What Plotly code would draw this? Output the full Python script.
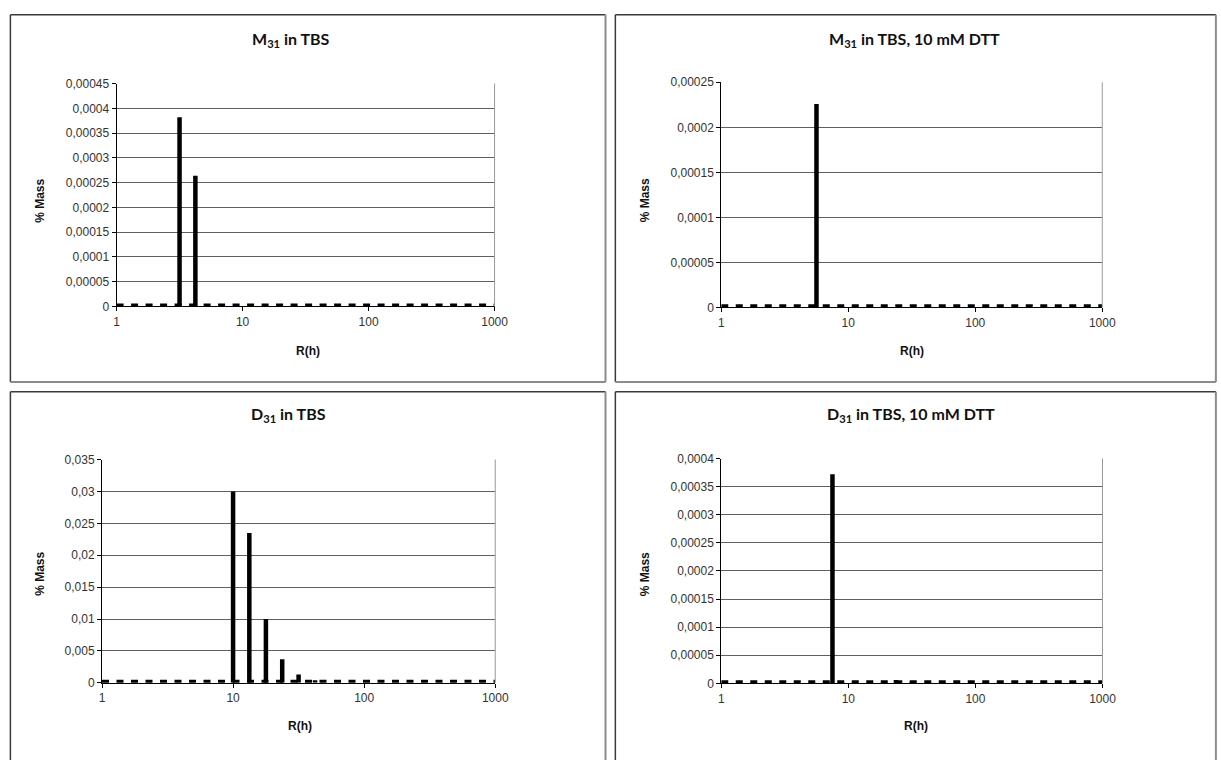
import plotly.graph_objects as go

# ---------------- data ----------------
R_h = [1, 1.33, 1.78, 2.37, 3.16, 4.22, 5.62, 7.5, 10, 13.3, 17.8, 23.7, 31.6,
       42.2, 56.2, 75, 100, 133, 178, 237, 316, 422, 562, 750, 1000]

m31_tbs = [0, 0, 0, 0, 0.000382, 0.000264, 0, 0, 0, 0, 0, 0, 0,
           0, 0, 0, 0, 0, 0, 0, 0, 0, 0, 0, 0]
m31_dtt = [0, 0, 0, 0, 0, 0, 0.000226, 0, 0, 0, 0, 0, 0,
           0, 0, 0, 0, 0, 0, 0, 0, 0, 0, 0, 0]
d31_tbs = [0, 0, 0, 0, 0, 0, 0, 0, 0.0300, 0.0235, 0.0100, 0.0037, 0.0013,
           0.0004, 0, 0, 0, 0, 0, 0, 0, 0, 0, 0, 0]
d31_dtt = [0, 0, 0, 0, 0, 0, 0, 0.000372, 0, 0, 0, 0.000006, 0.000003,
           0, 0, 0, 0, 0, 0, 0, 0, 0, 0, 0, 0]

titles = ["M<sub>31</sub> in TBS", "M<sub>31</sub> in TBS, 10 mM DTT",
          "D<sub>31</sub> in TBS", "D<sub>31</sub> in TBS, 10 mM DTT"]

y_ticks_m31_tbs = [0, 0.00005, 0.0001, 0.00015, 0.0002, 0.00025, 0.0003, 0.00035, 0.0004, 0.00045]
y_ticks_m31_dtt = [0, 0.00005, 0.0001, 0.00015, 0.0002, 0.00025]
y_ticks_d31_tbs = [0, 0.005, 0.01, 0.015, 0.02, 0.025, 0.03, 0.035]
y_ticks_d31_dtt = [0, 0.00005, 0.0001, 0.00015, 0.0002, 0.00025, 0.0003, 0.00035, 0.0004]

x_ticks = [1, 10, 100, 1000]
x_label = "R(h)"
y_label = "% Mass"

# ---------------- layout helpers ----------------
W, H = 1221, 760

def px_x(v):
    return v / W

def px_y(v):
    return 1 - v / H

def fmt(v):
    s = ("%.5f" % v).rstrip("0").rstrip(".")
    return s.replace(".", ",")

panels = [
    dict(vals=m31_tbs, yt=y_ticks_m31_tbs, box=(115.2, 498.5, 78, 305),
         title=(292, 33), ylab=(38, 197), xlab=(309, 350), frame=(7.5, 611, 8, 382)),
    dict(vals=m31_dtt, yt=y_ticks_m31_dtt, box=(728.4, 1114.8, 76.7, 306),
         title=(924, 33), ylab=(651, 197), xlab=(922, 350), frame=(621, 1230, 8, 382)),
    dict(vals=d31_tbs, yt=y_ticks_d31_tbs, box=(100.4, 499.2, 461, 688.5),
         title=(290, 415), ylab=(38, 577), xlab=(301, 733), frame=(7.5, 611, 392, 770)),
    dict(vals=d31_dtt, yt=y_ticks_d31_dtt, box=(728.4, 1115, 460, 689),
         title=(921, 415), ylab=(651, 578), xlab=(926, 732), frame=(621, 1230, 392, 770)),
]

fig = go.Figure()
shapes = []
annotations = []

tick_font = dict(family="Liberation Sans, Arial, sans-serif", size=12, color="#333333")
lab_font = dict(family="Liberation Sans, Arial, sans-serif", size=12, color="#111111")
title_font = dict(family="Lato, Open Sans, sans-serif", size=16, color="#111111")

for i, p in enumerate(panels):
    n = "" if i == 0 else str(i + 1)
    xa, ya = "x" + n, "y" + n
    left, right, top, bottom = p["box"]

    # dashed baseline
    fig.add_trace(go.Scatter(
        x=[R_h[0], R_h[-1]], y=[0, 0], mode="lines",
        line=dict(color="#000000", width=6, dash="7px,7.5px"),
        xaxis=xa, yaxis=ya, showlegend=False, hoverinfo="skip"))

    # spikes (drawn from data)
    bx, by = [], []
    for r, v in zip(R_h, p["vals"]):
        if v > 0:
            bx += [r, r, None]
            by += [0, v, None]
    fig.add_trace(go.Scatter(
        x=bx, y=by, mode="lines",
        line=dict(color="#000000", width=4.5),
        xaxis=xa, yaxis=ya, showlegend=False, hoverinfo="skip"))

    xkey = "xaxis" + n
    ykey = "yaxis" + n
    fig.layout[xkey] = dict(
        type="log", range=[0, 3], domain=[px_x(left), px_x(right)],
        anchor=ya, tickvals=x_ticks, ticktext=[str(t) for t in x_ticks],
        ticks="outside", ticklen=4, tickcolor="#000000",
        showline=True, linecolor="#000000", linewidth=1,
        showgrid=False, zeroline=False, tickfont=tick_font, fixedrange=True)
    fig.layout[ykey] = dict(
        range=[0, p["yt"][-1]], domain=[px_y(bottom), px_y(top)],
        anchor=xa, tickvals=p["yt"], ticktext=[fmt(t) for t in p["yt"]],
        ticks="outside", ticklen=4, tickcolor="#000000",
        showline=True, linecolor="#000000", linewidth=1,
        showgrid=True, gridcolor="#606060", gridwidth=1,
        zeroline=False, tickfont=tick_font, fixedrange=True)

    # plot-area right border (grey)
    shapes.append(dict(type="line", xref=xa + " domain", yref=ya + " domain",
                       x0=1, x1=1, y0=0, y1=1,
                       line=dict(color="#9a9a9a", width=1)))

    # chart frame
    fl, fr, ft, fb = p["frame"]
    shapes.append(dict(type="line", xref="paper", yref="paper",
                       x0=px_x(fl), x1=px_x(fr), y0=px_y(ft), y1=px_y(ft),
                       line=dict(color="#3a3a3a", width=1.5)))
    shapes.append(dict(type="line", xref="paper", yref="paper",
                       x0=px_x(fl), x1=px_x(fl), y0=px_y(ft), y1=px_y(fb),
                       line=dict(color="#3a3a3a", width=1.5)))
    shapes.append(dict(type="line", xref="paper", yref="paper",
                       x0=px_x(fr), x1=px_x(fr), y0=px_y(ft), y1=px_y(fb),
                       line=dict(color="#8c8c8c", width=2)))
    shapes.append(dict(type="line", xref="paper", yref="paper",
                       x0=px_x(fl), x1=px_x(fr), y0=px_y(fb), y1=px_y(fb),
                       line=dict(color="#8c8c8c", width=2)))

    annotations.append(dict(text="<b>%s</b>" % titles[i], xref="paper", yref="paper",
                            x=px_x(p["title"][0]), y=px_y(p["title"][1]),
                            xanchor="center", yanchor="middle", showarrow=False,
                            font=title_font))
    annotations.append(dict(text="<b>%s</b>" % y_label, xref="paper", yref="paper",
                            x=px_x(p["ylab"][0]), y=px_y(p["ylab"][1]),
                            xanchor="center", yanchor="middle", showarrow=False,
                            textangle=-90, font=lab_font))
    annotations.append(dict(text="<b>%s</b>" % x_label, xref="paper", yref="paper",
                            x=px_x(p["xlab"][0]), y=px_y(p["xlab"][1]),
                            xanchor="center", yanchor="middle", showarrow=False,
                            font=lab_font))

fig.update_layout(
    width=W, height=H, margin=dict(l=0, r=0, t=0, b=0),
    paper_bgcolor="#ffffff", plot_bgcolor="#ffffff",
    shapes=shapes, annotations=annotations, showlegend=False)

fig.write_html("out.html", config={"displayModeBar": False},
               post_script="document.body.style.margin='0';document.body.style.overflow='hidden';")
